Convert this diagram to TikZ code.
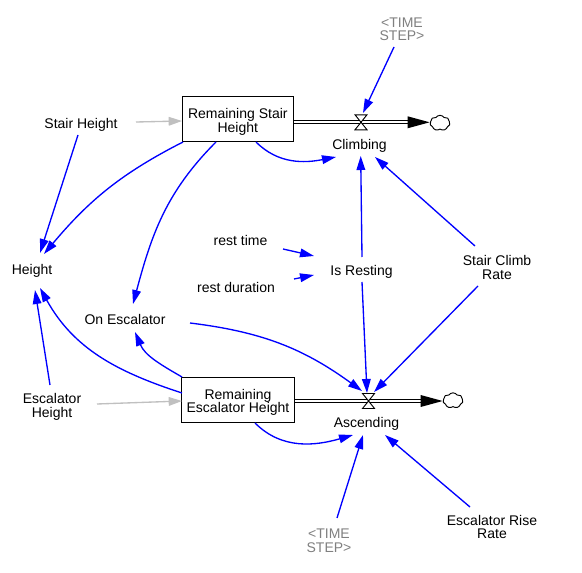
\documentclass[tikz,border=0pt]{standalone}
\usepackage{fontspec}
\setmainfont{Liberation Sans}
\usetikzlibrary{arrows.meta,calc,shapes.symbols}
\definecolor{linkblue}{RGB}{0,0,255}
\definecolor{lightlink}{RGB}{192,192,192}
\definecolor{shadowtxt}{RGB}{128,128,128}
\begin{document}
\begin{tikzpicture}[x=0.75pt,y=0.75pt,
  every node/.style={font=\fontsize{10.5}{10}\selectfont},
  lbl/.style={inner sep=0pt,align=center},
  one/.style={lbl,text depth=0pt},
  ghost/.style={lbl,text=shadowtxt},
  stock/.style={draw,line width=0.75pt,fill=white,minimum width=83.5pt,minimum height=33.5pt,inner sep=0pt,align=center},
  link/.style={draw=linkblue,line width=1pt,-{Triangle[length=10.5pt,width=6.5pt]}},
  glink/.style={draw=lightlink,line width=1pt,-{Triangle[length=10pt,width=6.5pt]}},
  pipe/.style={draw=black,line width=0.75pt,double=white,double distance=1.8pt},
  valvebox/.style={draw=black,fill=white,line width=0.7pt},
  puff/.style={cloud,cloud puffs=7,cloud puff arc=110,draw,line width=0.7pt,fill=white,minimum width=15pt,minimum height=11.5pt,inner sep=0pt,aspect=1.3}
]
\fill[white] (0,0) rectangle (582,-573);
\useasboundingbox (0,0) rectangle (582,-573);
% stocks
\node[stock] (rsh) at (237.8,-118.8) {\rule{0pt}{12pt}Remaining Stair\\Height};
\node[stock,minimum width=84.5pt] (reh) at (238,-399.7) {\rule{0pt}{11.5pt}Remaining\\Escalator Height};
\coordinate (vc) at (361,-122.3);
\coordinate (va) at (368.5,-401);
\node[puff] (c1) at (440,-123) {};
\node[puff] (c2) at (453,-400.5) {};
% pipes
\draw[pipe,shorten >=16pt] (rsh.east |- vc) -- (c1.west |- vc);
\fill ($(c1.west |- vc)+(-22,6)$) -- (c1.west |- vc) -- ($(c1.west |- vc)+(-22,-6)$) -- cycle;
\draw[pipe,shorten >=16pt] (reh.east |- va) -- (c2.west |- va);
\fill ($(c2.west |- va)+(-22,6)$) -- (c2.west |- va) -- ($(c2.west |- va)+(-22,-6)$) -- cycle;
% valves
\draw[valvebox] ($(vc)+(-6,7.5)$) -- ($(vc)+(6,7.5)$) -- ($(vc)+(-6,-7.5)$) -- ($(vc)+(6,-7.5)$) -- cycle;
\draw[valvebox] ($(va)+(-6,7.5)$) -- ($(va)+(6,7.5)$) -- ($(va)+(-6,-7.5)$) -- ($(va)+(6,-7.5)$) -- cycle;
% labels
\node[one] (climb) at (359.5,-144) {Climbing};
\node[one] (asc) at (366.5,-422) {Ascending};
\node[ghost] (ts1) at (402,-27.5) {\rule{0pt}{10pt}<TIME\\STEP>};
\node[ghost] (ts2) at (329,-539) {\rule{0pt}{10pt}<TIME\\STEP>};
\node[one] (sh) at (81,-123) {Stair Height};
\node[one] (hgt) at (32,-269) {Height};
\node[lbl] (eh) at (52,-405) {\rule{0pt}{10.5pt}Escalator\\Height};
\node[one] (onesc) at (125,-319) {On Escalator};
\node[one] (rt) at (240.5,-240) {rest time};
\node[one] (rd) at (236,-287) {rest duration};
\node[one] (isr) at (361.5,-270) {Is Resting};
\node[lbl] (scr) at (497,-266.5) {\rule{0pt}{9pt}Stair Climb\\Rate};
\node[lbl] (err) at (492,-526.5) {\rule{0pt}{8.5pt}Escalator Rise\\Rate};
% links
\draw[glink] ($(sh)+(55,1)$) -- ($(rsh)+(-55.8,-2.2)$);
\draw[glink] ($(eh)+(45,1)$) -- ($(reh)+(-56,-1.3)$);
\draw[link] ($(sh)+(-3,-12)$) -- ($(hgt)+(8,16)$);
\draw[link] ($(rsh)+(-54.8,-23.2)$) to[out=207,in=50] ($(hgt)+(12,15)$);
\draw[link] ($(rsh)+(-21.8,-23.2)$) to[out=225,in=75] ($(onesc)+(8,15)$);
\draw[link] ($(rsh)+(18.2,-23.2)$) to[out=-45,in=191] ($(climb)+(-23.5,-13)$);
\draw[link] ($(ts1)+(-8,-19.5)$) -- ($(vc)+(2,9.3)$);
\draw[link] ($(isr)+(0.5,13)$) -- ($(climb)+(1.2,-12)$);
\draw[link] ($(scr)+(-22,20.5)$) -- ($(climb)+(15.5,-13)$);
\draw[link] ($(rt)+(42.5,-9)$) -- ($(isr)+(-47.5,14)$);
\draw[link] ($(rd)+(58,8)$) -- ($(isr)+(-47.5,-5)$);
\draw[link] ($(isr)+(0.5,-12)$) -- ($(va)+(-1.5,8)$);
\draw[link] ($(scr)+(-19,-19.5)$) -- ($(va)+(5.5,9)$);
\draw[link] ($(onesc)+(65,-4)$) to[out=-7,in=144] ($(va)+(-6.5,10)$);
\draw[link] ($(reh)+(-56,22.7)$) to[out=150,in=-67] ($(onesc)+(10,-13)$);
\draw[link] ($(reh)+(-56,6.7)$) to[out=162,in=-61] ($(hgt)+(8,-19)$);
\draw[link] ($(eh)+(-2,20)$) -- ($(hgt)+(3,-21)$);
\draw[link] ($(reh)+(17,-23.3)$) to[out=-45,in=196] ($(asc)+(-13.5,-13)$);
\draw[link] ($(ts2)+(8,21)$) -- ($(asc)+(-3.5,-13)$);
\draw[link] ($(err)+(-22,19.5)$) -- ($(asc)+(18.5,-13)$);
\end{tikzpicture}
\end{document}
